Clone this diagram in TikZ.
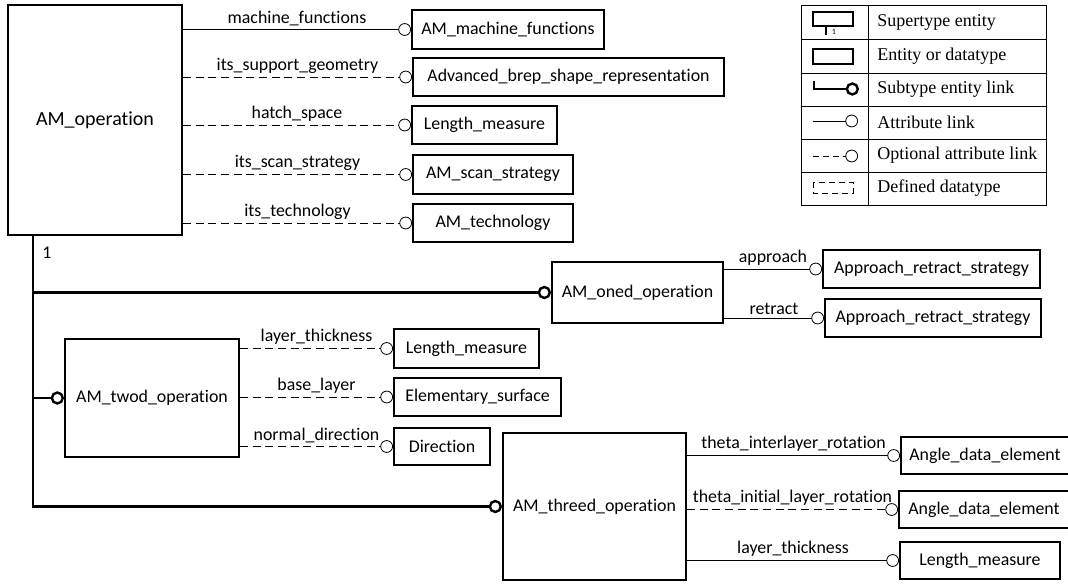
\documentclass[tikz,border=0pt]{standalone}
\usepackage{fontspec}
\setmainfont{Carlito}[Ligatures=NoCommon]
\newfontfamily\legendfont{Liberation Serif}
\usetikzlibrary{arrows.meta}

\tikzset{
  entity/.style 2 args={draw,line width=1.5pt,rectangle,inner sep=0pt,
    minimum width=#1*0.75pt,minimum height=#2*0.75pt,
    font=\fontsize{13.4}{16}\selectfont},
  attr/.style={line width=0.6pt,-{Circle[open,length=9.5pt]}},
  optattr/.style={attr,dash pattern=on 6pt off 3.5pt},
  subtype/.style={line width=1.8pt,-{Circle[open,length=10pt]}},
  attrlabel/.style={above,inner sep=2.5pt,font=\fontsize{13.4}{16}\selectfont},
  legendtext/.style={anchor=west,inner sep=0pt,font=\legendfont\fontsize{13.5}{16}\selectfont},
}

\begin{document}
\begin{tikzpicture}[x=0.75pt,y=-0.75pt]
\useasboundingbox (0,0) rectangle (1068,584);
% entities
\node[entity={174}{230},font=\fontsize{15}{18}\selectfont] (amop) at (95,120) {AM\_operation};
\node[entity={192}{39}] (amfun) at (508,29.5) {AM\_machine\_functions};
\node[entity={311}{38}] (brep) at (568.5,77) {Advanced\_brep\_shape\_representation};
\node[entity={145}{38}] (hatch) at (484.5,125) {Length\_measure};
\node[entity={160}{39}] (scan) at (493,174.5) {AM\_scan\_strategy};
\node[entity={160}{38}] (tech) at (493,223) {AM\_technology};
\node[entity={171}{61}] (oned) at (637.5,292.5) {AM\_oned\_operation};
\node[entity={217}{38}] (appr) at (931.5,269) {Approach\_retract\_strategy};
\node[entity={216}{38}] (retr) at (933,318) {Approach\_retract\_strategy};
\node[entity={174}{118}] (twod) at (152,398) {AM\_twod\_operation};
\node[entity={145}{39}] (thick2) at (466.5,348.5) {Length\_measure};
\node[entity={167}{38}] (base) at (477.5,397) {Elementary\_surface};
\node[entity={96}{37}] (dirn) at (442,446.5) {Direction};
\node[entity={183}{147}] (threed) at (594.5,506.5) {AM\_threed\_operation};
\node[entity={168}{37}] (inter) at (985,455.5) {Angle\_data\_element};
\node[entity={170}{37}] (init) at (984,509.5) {Angle\_data\_element};
\node[entity={160}{37}] (thick3) at (980,560.5) {Length\_measure};

% attributes of AM_operation
\draw[attr] (amop.east |- amfun) -- node[attrlabel] {machine\_functions} (amfun.west);
\draw[optattr] (amop.east |- brep) -- node[attrlabel] {its\_support\_geometry} (brep.west);
\draw[optattr] (amop.east |- hatch) -- node[attrlabel] {hatch\_space} (hatch.west);
\draw[optattr] (amop.east |- scan) -- node[attrlabel] {its\_scan\_strategy} (scan.west);
\draw[optattr] (amop.east |- tech) -- node[attrlabel] {its\_technology} (tech.west);

% subtypes
\coordinate (bus) at (33,235);
\node[attrlabel,anchor=center] (one) at (47,253) {1};
\draw[subtype,line join=miter] (bus) |- (threed.west);
\draw[subtype] (bus |- oned.west) -- (oned.west);
\draw[subtype] (bus |- twod.west) -- (twod.west);

% attributes of the subtypes
\draw[attr] (oned.east |- appr) -- node[attrlabel] {approach} (appr.west);
\draw[attr] (oned.east |- retr) -- node[attrlabel] {retract} (retr.west);
\draw[optattr] (twod.east |- thick2) -- node[attrlabel] {layer\_thickness} (thick2.west);
\draw[optattr] (twod.east |- base) -- node[attrlabel] {base\_layer} (base.west);
\draw[optattr] (twod.east |- dirn) -- node[attrlabel] {normal\_direction} (dirn.west);
\draw[attr] (threed.east |- inter) -- node[attrlabel] {theta\_interlayer\_rotation} (inter.west);
\draw[optattr] (threed.east |- init) -- node[attrlabel] {theta\_initial\_layer\_rotation} (init.west);
\draw[attr] (threed.east |- thick3) -- node[attrlabel] {layer\_thickness} (thick3.west);

% legend
\draw[line width=0.6pt] (801,5) rectangle (1046,205);
\draw[line width=0.6pt] (868,5) -- (868,205);
\draw[line width=0.6pt] (801,39) -- (1046,39);
\draw[line width=0.6pt] (801,73) -- (1046,73);
\draw[line width=0.6pt] (801,106) -- (1046,106);
\draw[line width=0.6pt] (801,139) -- (1046,139);
\draw[line width=0.6pt] (801,172) -- (1046,172);
\draw[line width=1.5pt] (813,12) rectangle (853,26);
\draw[line width=1.5pt] (826,26) -- (826,35);
\node[inner sep=0pt,font=\fontsize{6}{6}\selectfont] (lgone) at (834,32) {1};
\draw[line width=1.5pt] (813,49) rectangle (853,64);
\draw[subtype] (814,81) |- (859,89);
\draw[attr] (813,121) -- (858,121);
\draw[optattr,dash pattern=on 4.5pt off 3pt] (813,156) -- (858,156);
\draw[line width=0.6pt,dash pattern=on 4.5pt off 3pt] (813,182) rectangle (853,193);
\node[legendtext] (lg1) at (877,22) {Supertype entity};
\node[legendtext] (lg2) at (877,56) {Entity or datatype};
\node[legendtext] (lg3) at (877,89.5) {Subtype entity link};
\node[legendtext] (lg4) at (877,122.5) {Attribute link};
\node[legendtext] (lg5) at (877,155.5) {Optional attribute link};
\node[legendtext] (lg6) at (877,188.5) {Defined datatype};
\end{tikzpicture}
\end{document}
